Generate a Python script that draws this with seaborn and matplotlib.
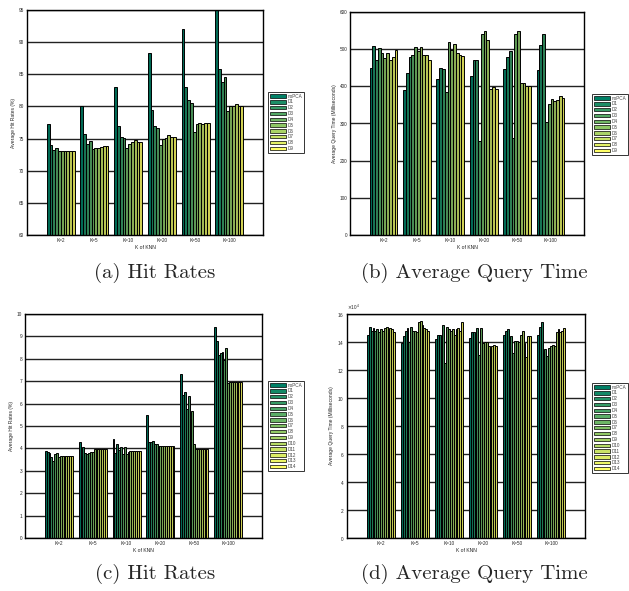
import matplotlib
matplotlib.use("Agg")
import numpy as np
import pandas as pd
import matplotlib.pyplot as plt
from matplotlib.patches import Patch
from matplotlib.ticker import ScalarFormatter
import seaborn as sns

# ── data ─────────────────────────────────────────────────────────
k_labels = ["K=2", "K=5", "K=10", "K=20", "K=50", "K=100"]
series_10 = ["noPCA", "D1", "D2", "D3", "D4", "D5", "D6", "D7", "D8", "D9"]
series_15 = ["noPCA", "D1", "D2", "D3", "D4", "D5", "D6", "D7", "D8", "D9",
             "D10", "D11", "D12", "D13", "D14"]

# (a) average hit rates (%), one row per K
hit_a = [
    [77.3, 74.0, 73.2, 73.5, 73.1, 73.0, 73.1, 73.0, 73.1, 73.0],
    [80.1, 75.7, 74.2, 74.6, 73.4, 73.6, 73.5, 73.7, 73.8, 73.8],
    [83.1, 77.0, 75.3, 75.1, 73.5, 74.2, 74.4, 74.8, 74.5, 74.5],
    [88.3, 79.5, 77.0, 76.7, 74.0, 75.0, 75.1, 75.5, 75.3, 75.3],
    [92.0, 83.0, 81.0, 80.5, 76.1, 77.3, 77.5, 77.2, 77.4, 77.4],
    [95.0, 85.8, 83.8, 84.6, 79.3, 80.0, 80.1, 80.4, 80.1, 80.1],
]

# (b) average query time (ms)
time_b = [
    [448, 508, 470, 502, 490, 475, 491, 471, 479, 498],
    [390, 435, 478, 483, 505, 495, 507, 484, 483, 472],
    [420, 450, 447, 386, 520, 498, 513, 490, 485, 482],
    [428, 470, 472, 252, 540, 548, 525, 393, 397, 393],
    [446, 478, 494, 260, 540, 550, 410, 410, 400, 400],
    [444, 512, 540, 303, 352, 365, 360, 364, 375, 368],
]

# (c) average hit rates (%)
hit_c = [
    [3.90, 3.85, 3.80, 3.60, 3.45, 3.75, 3.78, 3.60, 3.65, 3.65, 3.65, 3.65, 3.65, 3.65, 3.65],
    [4.30, 3.65, 4.05, 3.80, 3.75, 3.80, 3.85, 3.85, 3.97, 3.97, 3.97, 3.97, 3.97, 3.97, 3.97],
    [4.40, 3.80, 4.20, 3.95, 4.05, 3.75, 4.05, 3.75, 3.85, 3.88, 3.88, 3.88, 3.88, 3.88, 3.88],
    [5.50, 4.30, 4.30, 4.35, 4.20, 4.20, 4.10, 4.10, 4.10, 4.10, 4.10, 4.10, 4.10, 4.10, 4.10],
    [7.30, 6.40, 6.50, 5.75, 6.35, 5.30, 5.65, 4.20, 3.97, 3.97, 3.97, 3.97, 3.97, 3.97, 3.97],
    [9.40, 8.80, 8.15, 8.25, 8.30, 7.95, 8.50, 6.90, 6.95, 6.95, 6.95, 6.95, 6.95, 6.95, 6.95],
]

# (d) average query time (ms)
time_d = [
    [145000, 151000, 148000, 150000, 148000, 149000, 147000, 149000, 148000, 150000, 151000, 147000, 150000, 149000, 147000],
    [139000, 144000, 148000, 150000, 140000, 151000, 148000, 148000, 147000, 154000, 155000, 152000, 150000, 149000, 148000],
    [142000, 145000, 145000, 139000, 152000, 125000, 151000, 149000, 148000, 149000, 145000, 149000, 150000, 148000, 154000],
    [143000, 147000, 147000, 140000, 150000, 131000, 150000, 139000, 140000, 140000, 137000, 136000, 137000, 138000, 137000],
    [145000, 148000, 149000, 136000, 144000, 132000, 141000, 141000, 140000, 145000, 148000, 139000, 129000, 144000, 144000],
    [145000, 151000, 154000, 133000, 135000, 130000, 136000, 137000, 138000, 137000, 147000, 149000, 147000, 148000, 150000],
]

# ── style ────────────────────────────────────────────────────────
sns.set_theme(style="white")
plt.rcParams["font.family"] = ["Liberation Sans", "DejaVu Sans"]

W, H = 629, 591
fig = plt.figure(figsize=(W / 100, H / 100), dpi=100)


def px_axes(left, top, right, bottom):
    return fig.add_axes([left / W, 1 - bottom / H, (right - left) / W, (bottom - top) / H])


def panel(ax, values, series, ylim, yticks, ylabel, leg_xy):
    rows = [(k, s, v) for k, vals in zip(k_labels, values) for s, v in zip(series, vals)]
    df = pd.DataFrame(rows, columns=["K", "series", "value"])
    colors = [plt.cm.summer(t) for t in np.linspace(0, 1, len(series))]
    # bars render a bit darker than the legend swatches
    bar_colors = [tuple(np.array(c[:3]) * 0.82) for c in colors]
    sns.barplot(data=df, x="K", y="value", hue="series", order=k_labels,
                hue_order=series, palette=bar_colors, width=0.83, edgecolor="black",
                linewidth=0.7, legend=False, ax=ax, saturation=1)
    ax.set_xlim(-1, 6)
    ax.set_ylim(*ylim)
    ax.set_yticks(yticks)
    ax.set_axisbelow(True)
    ax.yaxis.grid(True, color="#222222", lw=1.0)
    ax.set_xlabel("K of KNN", fontsize=3.6, labelpad=1.5)
    ax.set_ylabel(ylabel, fontsize=3.6, labelpad=2)
    ax.tick_params(axis="both", direction="in", length=2, width=0.5,
                   labelsize=3.4, pad=2, left=True, bottom=True)
    for sp in ax.spines.values():
        sp.set_color("black")
        sp.set_linewidth(1.0)
    handles = [Patch(facecolor=c, edgecolor="black", lw=0.5) for c in colors]
    leg = fig.legend(handles, series, loc="upper left",
                     bbox_to_anchor=(leg_xy[0] / W, 1 - leg_xy[1] / H),
                     fontsize=3.3, frameon=True, fancybox=False,
                     handlelength=3.6, handleheight=0.75, handletextpad=0.3,
                     labelspacing=0.18, borderpad=0.35, borderaxespad=0)
    leg.get_frame().set_edgecolor("black")
    leg.get_frame().set_linewidth(0.7)
    for t in leg.get_texts():
        t.set_color("#444444")


ax_a = px_axes(27, 10, 263, 235)
panel(ax_a, hit_a, series_10, (60, 95), range(60, 96, 5),
      "Average Hit Rates (%)", (268, 92))

ax_b = px_axes(350, 12, 584, 235)
panel(ax_b, time_b, series_10, (0, 600), range(0, 601, 100),
      "Average Query Time (Milliseconds)", (592, 94))

ax_c = px_axes(25, 314, 262, 538)
panel(ax_c, hit_c, series_15, (0, 10), range(0, 11, 1),
      "Average Hit Rates (%)", (268, 381))

ax_d = px_axes(347, 314, 585, 538)
panel(ax_d, time_d, series_15, (0, 160000), range(0, 160001, 20000),
      "Average Query Time (Milliseconds)", (592, 383))
fmt = ScalarFormatter(useMathText=True)
fmt.set_powerlimits((4, 4))
ax_d.yaxis.set_major_formatter(fmt)
ax_d.yaxis.get_offset_text().set_fontsize(3.4)

# ── sub-captions ─────────────────────────────────────────────────
cap = dict(fontfamily="cmr10", fontsize=15, ha="center", va="center")
fig.text(155 / W, 1 - 273 / H, "(a) Hit Rates", **cap)
fig.text(474 / W, 1 - 273 / H, "(b) Average Query Time", **cap)
fig.text(155 / W, 1 - 574 / H, "(c) Hit Rates", **cap)
fig.text(474 / W, 1 - 574 / H, "(d) Average Query Time", **cap)

plt.savefig("out.png", dpi=100)
